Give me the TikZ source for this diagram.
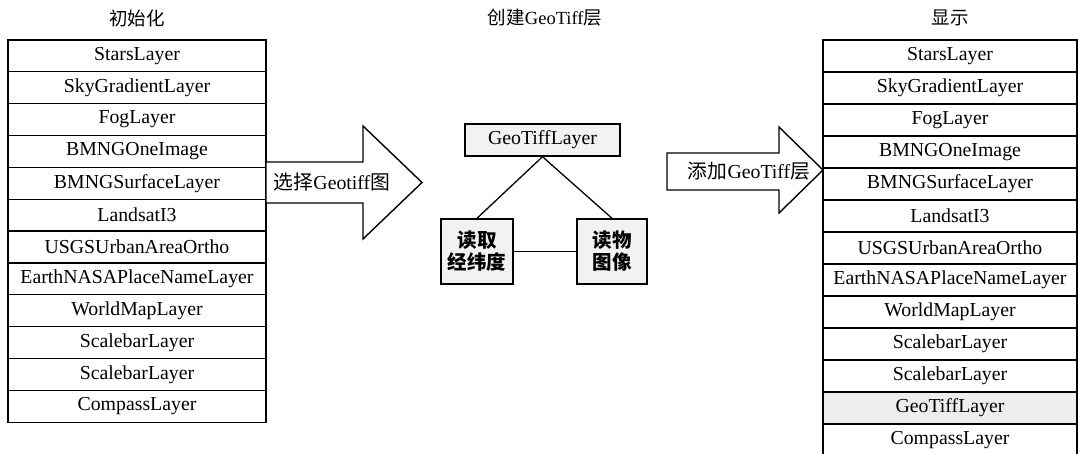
\documentclass[tikz,border=0pt]{standalone}
\usepackage{fontspec}
\setmainfont{Liberation Serif}
\newfontfamily\cjk{Noto Sans CJK SC}
\begin{document}
\begin{tikzpicture}[x=1pt,y=-1pt,
  every node/.style={font=\fontsize{19.8}{21}\selectfont, inner sep=0pt},
  lrow/.style={draw, line width=1.2pt, minimum width=258pt, minimum height=31.85pt},
  rrow/.style={draw, line width=1.2pt, minimum width=254pt, minimum height=32pt},
  shade/.style={fill=gray!14},
  cbox/.style={draw, line width=1.4pt, fill=gray!10, align=center,
    font=\fontsize{19.5}{22}\selectfont\cjk\bfseries},
  bigarrow/.style={draw, line width=1.4pt, fill=white},
  link/.style={line width=1.3pt},
  title/.style={font=\fontsize{18.5}{20}\selectfont}]
\useasboundingbox (0,0) rectangle (1078,454);
\clip (0,0) rectangle (1078,454);

% titles
\node[title] (t1) at (137,18) {\cjk 初始化};
\node[title] (t2) at (545,18) {{\cjk 创建}GeoTiff{\cjk 层}};
\node[title] (t3) at (950,18) {\cjk 显示};

% left table
\foreach \i/\t in {1/StarsLayer,2/SkyGradientLayer,3/FogLayer,4/BMNGOneImage,
  5/BMNGSurfaceLayer,6/LandsatI3,7/USGSUrbanAreaOrtho,8/EarthNASAPlaceNameLayer,
  9/WorldMapLayer,10/ScalebarLayer,11/ScalebarLayer,12/CompassLayer}
  \node[lrow] (L\i) at (137,{40+31.85*(\i-0.5)}) {\t};

% right table
\foreach \i/\t in {1/StarsLayer,2/SkyGradientLayer,3/FogLayer,4/BMNGOneImage,
  5/BMNGSurfaceLayer,6/LandsatI3,7/USGSUrbanAreaOrtho,8/EarthNASAPlaceNameLayer,
  9/WorldMapLayer,10/ScalebarLayer,11/ScalebarLayer}
  \node[rrow] (R\i) at (950,{40+32*(\i-0.5)}) {\t};
\node[rrow, shade] (R12) at (950,{40+32*11.5}) {GeoTiffLayer};
\node[rrow] (R13) at (950,{40+32*12.5}) {CompassLayer};

% arrow 1
\draw[bigarrow] (266,162) -- (363,162) -- (363,126) -- (422,182.5) -- (363,239)
  -- (363,203) -- (266,203) -- cycle;
\node (a1) at (332,182.5) {{\cjk 选择}Geotiff{\cjk 图}};

% arrow 2
\draw[bigarrow] (667,153) -- (779,153) -- (779,127) -- (823,170) -- (779,213)
  -- (779,190) -- (667,190) -- cycle;
\node (a2) at (749,171.5) {{\cjk 添加}GeoTiff{\cjk 层}};

% middle structure
\node[draw, line width=1.4pt, fill=gray!10, minimum width=155pt, minimum height=32pt]
  (g) at (542.5,140) {GeoTiffLayer};
\node[cbox, minimum width=72pt, minimum height=65pt] (lb) at (477,251.5) {读取\\经纬度};
\node[cbox, minimum width=70pt, minimum height=65pt] (rb) at (612,251.5) {读物\\图像};
\draw[link] (g.south) -- (lb.north);
\draw[link] (g.south) -- (rb.north);
\draw[link] (lb.east) -- (rb.west);
\end{tikzpicture}
\end{document}
